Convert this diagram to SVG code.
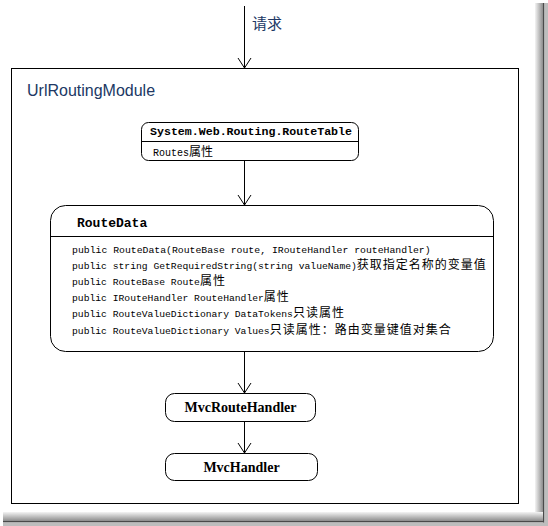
<svg xmlns="http://www.w3.org/2000/svg" width="548" height="526" viewBox="0 0 548 526">
<style>
.ln{fill:none;stroke:#000;stroke-width:1}
.box{fill:#fff;stroke:#000;stroke-width:1}
.mono{font-family:"Liberation Mono","DejaVu Sans Mono",monospace;fill:#000}
.cjk{font-family:"Noto Sans CJK SC",sans-serif;fill:#000}
.c2{font-size:12px;letter-spacing:1px}
.lbl{font-family:"Liberation Sans","Noto Sans CJK SC",sans-serif;fill:#203864}
.ser{font-family:"Liberation Serif",serif;font-weight:bold;font-size:14px;fill:#000}
</style>
<defs>
<marker id="arr" viewBox="-11 -8 12 16" markerWidth="12" markerHeight="16" refX="0" refY="0" orient="auto" markerUnits="userSpaceOnUse">
<path d="M-10,-6.5 L0,0 L-10,6.5" fill="none" stroke="#000" stroke-width="1"/>
</marker>
<linearGradient id="gr" x1="0" y1="0" x2="1" y2="0">
<stop offset="0" stop-color="#f4f4f4"/><stop offset="1" stop-color="#8c8c8c"/>
</linearGradient>
<linearGradient id="gb" x1="0" y1="0" x2="0" y2="1">
<stop offset="0" stop-color="#f4f4f4"/><stop offset="1" stop-color="#8c8c8c"/>
</linearGradient>
</defs>
<rect width="548" height="526" fill="#fff"/>
<g id="shadow">
<rect x="535" y="3" width="8" height="519" fill="url(#gr)"/>
<rect x="543" y="3" width="1.5" height="520" fill="#4a4a4a"/>
<rect x="544.5" y="3" width="3.5" height="521" fill="#bdbdbd"/>
<rect x="3" y="512" width="540" height="9" fill="url(#gb)"/>
<rect x="3" y="521" width="541" height="1.5" fill="#4a4a4a"/>
<rect x="3" y="522.5" width="545" height="3.5" fill="#bdbdbd"/>
</g>
<g id="module">
<rect class="box" x="11.5" y="68.5" width="507" height="435"/>
<text class="lbl" x="27" y="96" font-size="16">UrlRoutingModule</text>
</g>
<g id="connectors">
<line class="ln" x1="244.5" y1="6" x2="244.5" y2="68" marker-end="url(#arr)"/>
<line class="ln" x1="244.5" y1="161" x2="244.5" y2="205" marker-end="url(#arr)"/>
<line class="ln" x1="244.5" y1="352" x2="244.5" y2="393" marker-end="url(#arr)"/>
<line class="ln" x1="244.5" y1="421" x2="244.5" y2="453" marker-end="url(#arr)"/>
<text class="lbl" x="252" y="29" font-size="15">请求</text>
</g>
<g id="routetable">
<rect class="box" x="141.5" y="122.5" width="217" height="38" rx="7" ry="7"/>
<line class="ln" x1="142" y1="141.5" x2="358" y2="141.5"/>
<text class="mono" x="150" y="135" font-size="11.6" font-weight="bold" textLength="202" lengthAdjust="spacingAndGlyphs">System.Web.Routing.RouteTable</text>
<text x="153" y="156"><tspan class="mono" font-size="10">Routes</tspan><tspan class="cjk" font-size="12">属性</tspan></text>
</g>
<g id="routedata">
<rect class="box" x="50.5" y="205.5" width="443" height="146" rx="15" ry="15"/>
<line class="ln" x1="51" y1="236.5" x2="493" y2="236.5"/>
<text class="mono" x="77" y="227" font-size="13" font-weight="bold">RouteData</text>
<text x="72" y="252.5"><tspan class="mono" font-size="9.8">public RouteData(RouteBase route, IRouteHandler routeHandler)</tspan></text>
<text x="72" y="268.7"><tspan class="mono" font-size="9.7">public string GetRequiredString(string valueName)</tspan><tspan class="cjk c2">获取指定名称的变量值</tspan></text>
<text x="72" y="284.9"><tspan class="mono" font-size="9.7">public RouteBase Route</tspan><tspan class="cjk c2">属性</tspan></text>
<text x="72" y="301.1"><tspan class="mono" font-size="9.7">public IRouteHandler RouteHandler</tspan><tspan class="cjk c2">属性</tspan></text>
<text x="72" y="317.3"><tspan class="mono" font-size="9.7">public RouteValueDictionary DataTokens</tspan><tspan class="cjk c2">只读属性</tspan></text>
<text x="72" y="333.5"><tspan class="mono" font-size="9.7">public RouteValueDictionary Values</tspan><tspan class="cjk c2">只读属性：路由变量键值对集合</tspan></text>
</g>
<g id="mvcroutehandler">
<rect class="box" x="165.5" y="393.5" width="150" height="28" rx="9" ry="9"/>
<text class="ser" x="240.5" y="412" text-anchor="middle">MvcRouteHandler</text>
</g>
<g id="mvchandler">
<rect class="box" x="165.5" y="453.5" width="152" height="27" rx="9" ry="9"/>
<text class="ser" x="241.5" y="471.5" text-anchor="middle">MvcHandler</text>
</g>
</svg>
